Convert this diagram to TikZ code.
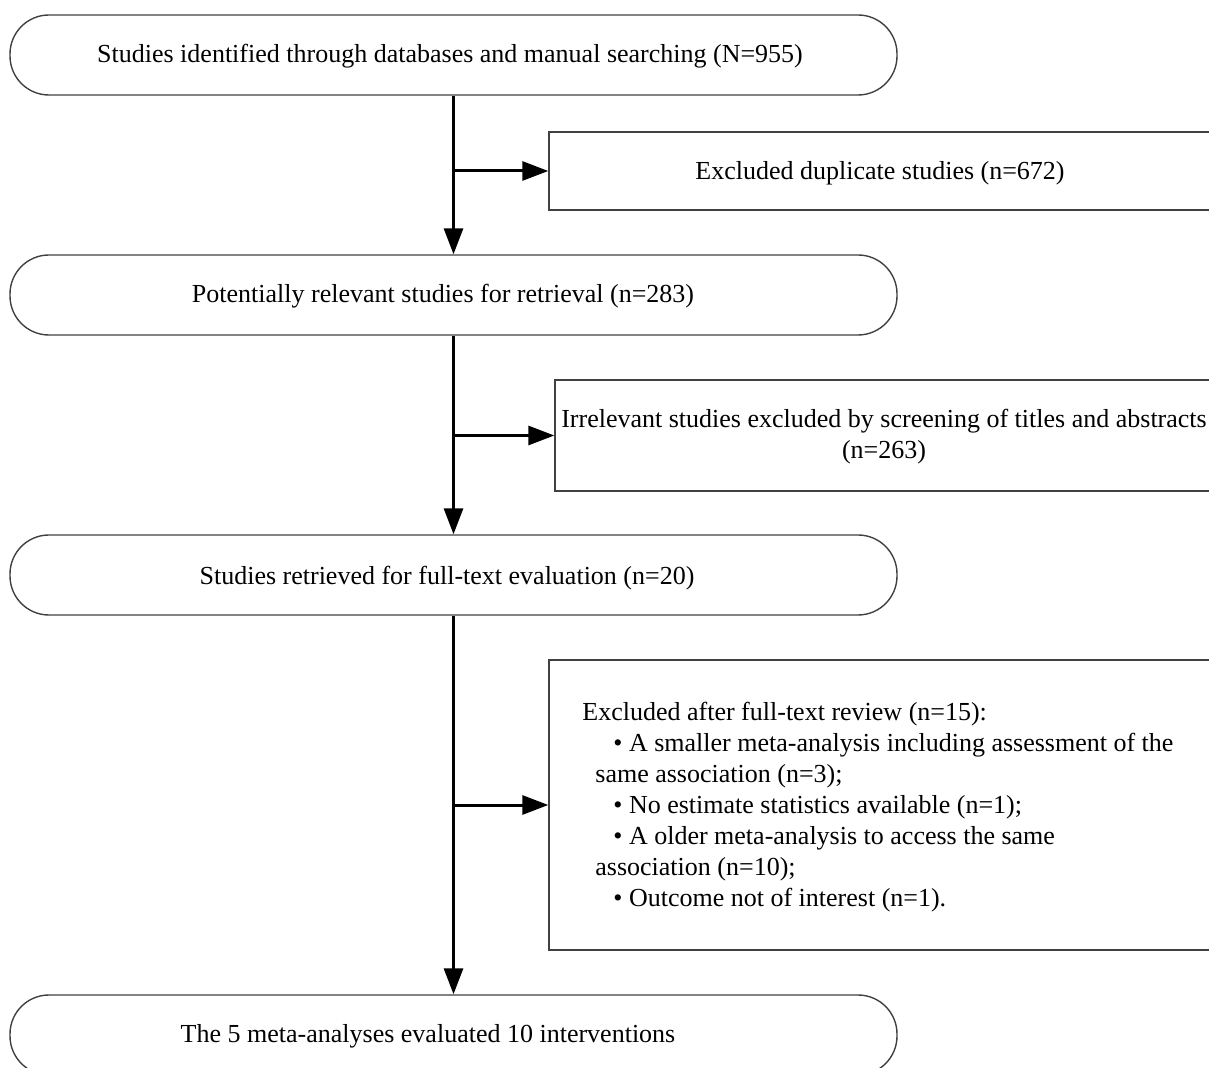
\documentclass[tikz,border=0pt]{standalone}
\usepackage{fontspec}
\setmainfont{Liberation Serif}
\usetikzlibrary{arrows.meta}
\begin{document}
\begin{tikzpicture}[x=0.5pt,y=-0.5pt,
  every node/.style={font=\fontsize{13}{15.5}\selectfont},
  stage/.style={draw=black!75, line width=0.7pt, rounded corners=19.5pt, minimum width=443.5pt, minimum height=40pt, inner sep=0pt},
  excl/.style={draw=black!75, line width=0.7pt, inner sep=0pt},
  lbl/.style={inner sep=0pt},
  arr/.style={line width=1.5pt, -{Triangle[length=13pt,width=9.5pt]}}]
\useasboundingbox (0,0) rectangle (1209,1068);
\clip (0,0) rectangle (1209,1068);
% left stage boxes
\node[stage] (b1) at (453.5,55) {};
\node[stage] (b2) at (453.5,295) {};
\node[stage] (b3) at (453.5,575) {};
\node[stage] (b4) at (453.5,1035) {};
% right exclusion boxes
\node[excl, minimum width=340.5pt, minimum height=39pt] (r1) at (889.5,171) {};
\node[excl, minimum width=337.5pt, minimum height=55.5pt] (r2) at (892.5,435.5) {};
\node[excl, minimum width=340.5pt, minimum height=145pt] (r3) at (889.5,805) {};
% texts
\node[lbl] (t1) at (450,56) {Studies identified through databases and manual searching (N=955)};
\node[lbl] (t2) at (443,296) {Potentially relevant studies for retrieval (n=283)};
\node[lbl] (t3) at (447,578) {Studies retrieved for full-text evaluation (n=20)};
\node[lbl] (t4) at (428,1036) {The 5 meta-analyses evaluated 10 interventions};
\node[lbl] (s1) at (880,173) {Excluded duplicate studies (n=672)};
\node[lbl, align=center] (s2) at (884,437) {Irrelevant studies excluded by screening of titles and abstracts\\(n=263)};
\node[lbl, align=left, anchor=north west] (s3) at (582,702) {Excluded after full-text review (n=15):\\
\hspace*{15.5pt}• A smaller meta-analysis including assessment of the\\
\hspace*{6.5pt}same association (n=3);\\
\hspace*{15.5pt}• No estimate statistics available (n=1);\\
\hspace*{15.5pt}• A older meta-analysis to access the same\\
\hspace*{6.5pt}association (n=10);\\
\hspace*{15.5pt}• Outcome not of interest (n=1).};
% connectors
\draw[arr] (b1.south) -- (b2.north);
\draw[arr] (b1.south |- r1.west) -- (r1.west);
\draw[arr] (b2.south) -- (b3.north);
\draw[arr] (b2.south |- r2.west) -- (r2.west);
\draw[arr] (b3.south) -- (b4.north);
\draw[arr] (b3.south |- r3.west) -- (r3.west);
\end{tikzpicture}
\end{document}
